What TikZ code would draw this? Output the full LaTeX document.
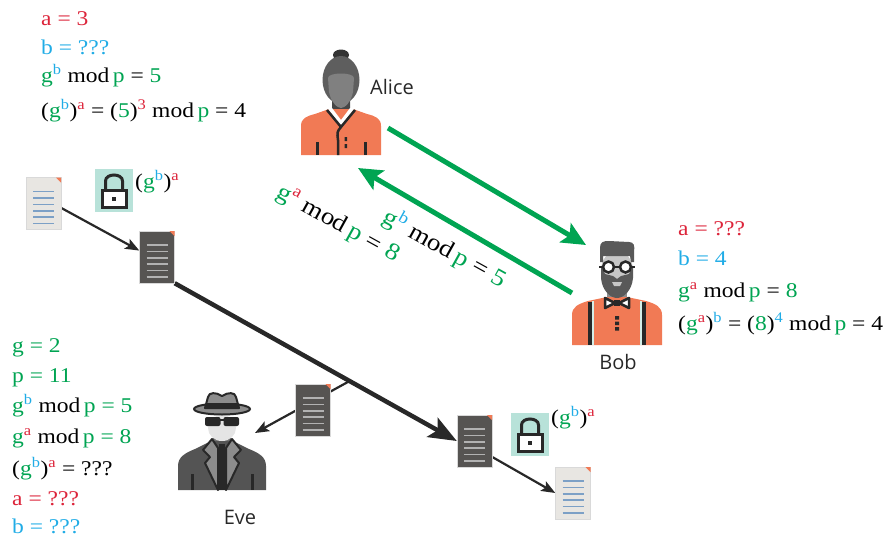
\documentclass[tikz,border=0pt]{standalone}
\usepackage{fontspec}
\setmainfont{Liberation Serif}[FakeStretch=1.12]
\newfontfamily\namefont{Open Sans}
\usetikzlibrary{arrows.meta}

\definecolor{keyred}{RGB}{220,36,58}
\definecolor{keyblue}{RGB}{32,172,230}
\definecolor{keygreen}{RGB}{0,164,82}
\definecolor{shirt}{RGB}{241,122,85}
\definecolor{ink}{RGB}{40,40,40}
\definecolor{lockbg}{RGB}{184,226,217}
\definecolor{paper}{RGB}{232,230,226}
\definecolor{paperline}{RGB}{124,160,198}
\definecolor{cipher}{RGB}{86,84,82}

\newcommand{\rd}[1]{\textcolor{keyred}{#1}}
\newcommand{\bl}[1]{\textcolor{keyblue}{#1}}
\newcommand{\gn}[1]{\textcolor{keygreen}{#1}}
\newcommand{\up}[1]{\textsuperscript{#1}}

% sheet of paper: #1 centre, #2 sheet colour, #3 line colour
\newcommand{\sheet}[3]{\begin{scope}[shift={(#1)}]
  \fill[#2] (-17.5,-26) rectangle (17.5,26);
  \draw[black!15,line width=0.8pt] (-17.5,-26) rectangle (17.5,26);
  \fill[shirt] (12.5,-26)--(17.5,-26)--(17.5,-21)--cycle;
  \foreach \i in {0,...,5} \draw[#3,line width=1.6pt] (-10.5,{-12+6.4*\i})--(10.5,{-12+6.4*\i});
  \end{scope}}
\newcommand{\padlock}[1]{\begin{scope}[shift={(#1)}]
  \fill[lockbg] (-19,-21.5) rectangle (19,21.5);
  \draw[ink,line width=3pt] (-8.5,0)--(-8.5,-9) .. controls (-8.5,-17) and (8.5,-17) .. (8.5,-9)--(8.5,0);
  \draw[ink,fill=white,line width=3pt] (-12,0) rectangle (12,17);
  \fill[ink] (-1.8,7) rectangle (1.8,10.6);
  \end{scope}}

% people
\newcommand{\alicefig}[1]{\begin{scope}[shift={(#1)}]
  \fill[black!72] (-9,16)--(9,16)--(9,34)--(0,42)--(-9,34)--cycle;
  \fill[shirt] (-40,75)--(-40,46) .. controls (-40,38) and (-34,36) .. (-26,34)--(-12,29)--(12,29)--(26,34) .. controls (34,36) and (40,38) .. (40,46)--(40,75)--cycle;
  \fill[white] (-13,29)--(0,46)--(13,29)--(9,28)--(0,40)--(-9,28)--cycle;
  \draw[ink,line width=2.5pt,line join=round] (-14,30)--(0,47)--(14,30);
  \draw[ink,line width=2.5pt] (0,47) .. controls (-4,52) .. (-3,60)--(-3,75);
  \fill[ink] (3.5,57) rectangle (6,61) (3.5,64) rectangle (6,68);
  \draw[ink,line width=3pt] (-24,62)--(-24,75) (24,62)--(24,75);
  \fill[black!80] (0,-25) ellipse [x radius=8,y radius=5.5];
  \fill[black!63] (0,0) ellipse [x radius=18.5,y radius=24];
  \fill[black!50] (-13,-2) .. controls (-13,-8) and (13,-8) .. (13,-2)--(12,12) .. controls (10,22) and (4,28) .. (0,28) .. controls (-4,28) and (-10,22) .. (-12,12)--cycle;
  \end{scope}}
\newcommand{\bobfig}[1]{\begin{scope}[shift={(#1)}]
  \fill[black!45] (-10,14) rectangle (10,32);
  \fill[shirt] (-45,75)--(-45,45) .. controls (-45,37) and (-39,34) .. (-29,31)--(-10,27)--(10,27)--(29,31) .. controls (39,34) and (45,37) .. (45,45)--(45,75)--cycle;
  \fill[black!22] (0,0) ellipse [x radius=16,y radius=19];
  \fill[black!65] (-17,-8)--(-17,-22) .. controls (-17,-28) and (-14,-29) .. (-8,-29)--(12,-28) .. controls (17,-28) and (18,-24) .. (17,-18)--(17,-8)--(14,-8)--(13,-14)--(-14,-14)--(-14,-8)--cycle;
  \fill[black!65] (-16,-4)--(-16,8) .. controls (-15,20) and (-7,28) .. (0,28) .. controls (7,28) and (15,20) .. (16,8)--(16,-4)--(12,4)--(4,6)--(0,9)--(-4,6)--(-12,4)--cycle;
  \fill[black!22] (-5,12)--(5,12)--(3,16)--(-3,16)--cycle;
  \draw[ink,line width=2.5pt,fill=white] (-8.5,-3) circle (5.5) (8.5,-3) circle (5.5);
  \draw[ink,line width=2.5pt] (-3,-3)--(3,-3) (-14,-3)--(-18,-3) (14,-3)--(18,-3);
  \draw[ink,line width=3.5pt] (-27,32)--(-27,75) (27,32)--(27,75);
  \draw[lockbg!60!white,line width=1.5pt] (-24,31)--(-24,75) (24,31)--(24,75);
  \draw[ink,fill=white,line width=2.5pt,line join=round] (-12,28)--(-2,33)--(-12,38)--cycle (12,28)--(2,33)--(12,38)--cycle;
  \fill[ink] (-3,30) rectangle (3,36);
  \fill[ink] (-2,46) rectangle (2,49.5) (-2,51.5) rectangle (2,55) (-2,57) rectangle (2,60.5);
  \end{scope}}
\newcommand{\evefig}[1]{\begin{scope}[shift={(#1)}]
  \fill[black!55] (-9,4) rectangle (9,18);
  \fill[black!67] (-44,62)--(-44,38) .. controls (-44,29) and (-37,25) .. (-27,21)--(-11,13)--(11,13)--(27,21) .. controls (37,25) and (44,29) .. (44,38)--(44,62)--cycle;
  \fill[ink] (-3,16) rectangle (3,62);
  \draw[ink,fill=black!45,line width=2pt,line join=round] (-10,11)--(-19,22)--(-12,29)--(-17,35)--(-4,62)--(-4,20)--cycle;
  \draw[ink,fill=black!45,line width=2pt,line join=round] (10,11)--(19,22)--(12,29)--(17,35)--(4,62)--(4,20)--cycle;
  \draw[ink,line width=3pt] (-30,46)--(-30,62) (30,46)--(30,62);
  \fill[black!10] (0,0) ellipse [x radius=14,y radius=13];
  \fill[ink,rounded corners=2pt] (-17,-11) rectangle (-1.5,-2) (1.5,-11) rectangle (17,-2);
  \draw[ink,line width=2pt] (-2,-8)--(2,-8);
  \draw[ink,fill=black!45,line width=2pt] (0,-19) ellipse [x radius=28,y radius=5.5];
  \draw[ink,fill=black!45,line width=2pt,line join=round] (-17,-20)--(-14,-31) .. controls (-13,-36) and (-6,-36) .. (0,-32) .. controls (6,-36) and (13,-36) .. (14,-31)--(17,-20)--cycle;
  \fill[ink] (-16,-25) rectangle (16,-21);
  \end{scope}}

\begin{document}
\begin{tikzpicture}[x=1pt,y=-1pt,
  eq/.style={anchor=base west,inner sep=0pt,font=\fontsize{21}{24}\selectfont},
  tilted/.style={inner sep=0pt,rotate=-29,font=\fontsize{24}{28}\selectfont},
  who/.style={inner sep=0pt,font=\namefont\fontsize{20}{24}\selectfont,text=ink},
  sheetbox/.style={minimum width=35pt,minimum height=52pt,inner sep=0pt},
  lockbox/.style={minimum width=38pt,minimum height=43pt,inner sep=0pt},
  wire/.style={keygreen,line width=5pt,-{Stealth[length=24pt,width=22pt,inset=5pt]}},
  link/.style={ink,line width=2.2pt,-{Stealth[length=14pt,width=11pt,inset=3pt]}},
  trunk/.style={ink,line width=4.5pt,-{Stealth[length=28pt,width=22pt,inset=6pt]}}]
\useasboundingbox (0,0) rectangle (891,536);

% what each party knows
\node[eq] (aliceA) at (41,25) {\rd{a = 3}};
\node[eq] (aliceB) at (41,54) {\bl{b = ???}};
\node[eq] (aliceGb) at (41,82) {\gn{g}\up{\bl{b}} mod\,\gn{p} = \gn{5}};
\node[eq] (aliceKey) at (41,117) {(\gn{g}\up{\bl{b}})\up{\rd{a}} = (\gn{5})\up{\rd{3}} mod\,\gn{p} = 4};

\node[eq] (bobA) at (678,235) {\rd{a = ???}};
\node[eq] (bobB) at (678,265) {\bl{b = 4}};
\node[eq] (bobGa) at (678,297) {\gn{g}\up{\rd{a}} mod\,\gn{p} = \gn{8}};
\node[eq] (bobKey) at (678,330) {(\gn{g}\up{\rd{a}})\up{\bl{b}} = (\gn{8})\up{\bl{4}} mod\,\gn{p} = 4};

\node[eq] (eveG) at (12,352) {\gn{g = 2}};
\node[eq] (eveP) at (12,382) {\gn{p = 11}};
\node[eq] (eveGb) at (12,412) {\gn{g}\up{\bl{b}} mod\,\gn{p = 5}};
\node[eq] (eveGa) at (12,443) {\gn{g}\up{\rd{a}} mod\,\gn{p = 8}};
\node[eq] (eveKey) at (12,475) {(\gn{g}\up{\bl{b}})\up{\rd{a}} = ???};
\node[eq] (eveA) at (12,505) {\rd{a = ???}};
\node[eq] (eveB) at (12,533) {\bl{b = ???}};

% people
\alicefig{341,80}
\bobfig{617,270}
\evefig{222,428}
\node[who] (aliceName) at (392,87) {Alice};
\node[who] (bobName) at (618,362) {Bob};
\node[who] (eveName) at (240,517) {Eve};

% public exchange
\coordinate (aliceTx) at (388,128);
\coordinate (bobRx) at (586,245);
\coordinate (bobTx) at (572,293);
\coordinate (aliceRx) at (358,168);
\draw[wire] (aliceTx) -- (bobRx);
\draw[wire] (bobTx) -- (aliceRx);
\node[tilted] (sendA) at (338,224) {\gn{g}\up{\rd{a}} mod\,\gn{p} = \gn{8}};
\node[tilted] (sendB) at (445,248) {\gn{g}\up{\bl{b}} mod\,\gn{p} = \gn{5}};

% message path
\node[sheetbox] (plain1) at (43.5,203.5) {};
\node[sheetbox] (cipher1) at (157,257) {};
\node[sheetbox] (cipher2) at (474.5,441) {};
\node[sheetbox] (plain2) at (573,493) {};
\node[sheetbox] (copy) at (313,410) {};
\node[lockbox] (lock1) at (114,190) {};
\node[lockbox] (lock2) at (530,434) {};
\coordinate (eveEar) at (255,433);

\draw[link] (plain1.-14) -- (cipher1.160);
\draw[trunk] (cipher1.south east) -- coordinate[pos=0.62] (tap) (cipher2.west);
\draw[link] (tap) -- (eveEar);
\draw[link] (cipher2.-42) -- (plain2.west);

\sheet{plain1}{paper}{paperline}
\sheet{plain2}{paper}{paperline}
\sheet{cipher1}{cipher}{black!30}
\sheet{cipher2}{cipher}{black!30}
\sheet{copy}{cipher}{black!30}
\padlock{lock1}
\padlock{lock2}
\node[eq] (lock1Key) at (135,188) {(\gn{g}\up{\bl{b}})\up{\rd{a}}};
\node[eq] (lock2Key) at (551,424) {(\gn{g}\up{\bl{b}})\up{\rd{a}}};
\end{tikzpicture}
\end{document}
